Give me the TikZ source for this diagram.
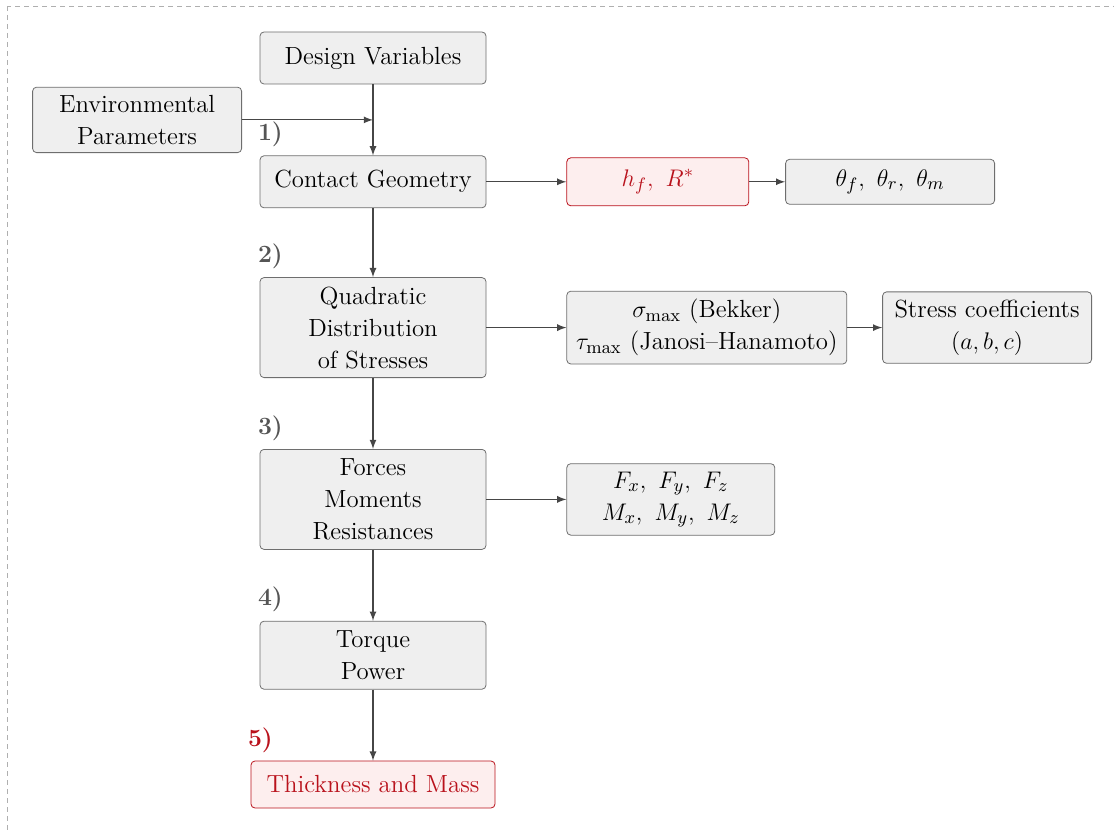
\documentclass[tikz,border=0pt]{standalone}
\usepackage{tikz}
\usepackage{xcolor}
\usetikzlibrary{shapes.geometric, arrows, positioning, calc}
\definecolor{boxgray}{RGB}{239, 239, 239}
\definecolor{edgegray}{RGB}{110, 110, 110}
\definecolor{linegray}{RGB}{70, 70, 70}
\definecolor{keyred}{RGB}{185, 18, 28}
\definecolor{keyredfill}{RGB}{253, 238, 238}
\definecolor{labelgray}{RGB}{85, 85, 85}
\definecolor{framegray}{RGB}{175, 175, 175}
\tikzstyle{block} = [rectangle, rounded corners=2pt, minimum width=113pt, minimum height=26pt, align=center, draw=edgegray, fill=boxgray, font={\fontsize{12.4}{16}\selectfont}, inner xsep=6pt, inner ysep=4pt]
\tikzstyle{result} = [block, draw=keyred, fill=keyredfill, text=keyred]
\tikzstyle{arrow} = [->, >=latex, draw=linegray, line width=0.6pt]
\tikzstyle{steplabel} = [font={\fontsize{12.4}{16}\selectfont\bfseries}, text=labelgray, anchor=base west, inner sep=0pt]

\begin{document}
\begin{tikzpicture}[node distance=35.5pt]
      \useasboundingbox (0,0) rectangle (557pt,-417pt);
      \draw[framegray, dash pattern=on 2.5pt off 2pt] (3.5pt,-3pt) rectangle (580pt,-440pt);

      \node[block] (design) at (186.5pt,-29pt) {Design Variables};
      \node[block, below=of design] (contact) {Contact Geometry};
      \node[block, below=34.5pt of contact, minimum height=50pt] (quad) {Quadratic\\Distribution\\of Stresses};
      \node[block, below=of quad, minimum height=50pt] (forces) {Forces\\Moments\\Resistances};
      \node[block, below=of forces, minimum height=34pt] (torque) {Torque\\Power};
      \node[result, below=of torque, minimum width=122pt, minimum height=23.5pt] (thick) {Thickness and Mass};

      \coordinate (join) at ($(design.south)!0.5!(contact.north)$);
      \node[block, left=65.5pt of join, minimum width=104.5pt] (env) {Environmental\\Parameters};

      \node[result, right=40pt of contact, minimum width=91pt, minimum height=24pt] (height) {$h_f,\ R^*$};
      \node[block, right=18pt of height, minimum width=104.5pt, minimum height=22.5pt] (angles) {$\theta_f,\ \theta_r,\ \theta_m$};
      \node[block, right=40pt of quad, minimum width=140pt, inner xsep=3.5pt] (peak) {$\sigma_{\max}$ (Bekker)\\$\tau_{\max}$ (Janosi--Hanamoto)};
      \node[block, right=17.5pt of peak, minimum width=104.5pt, inner xsep=4pt] (coeff) {Stress coefficients\\$(a, b, c)$};
      \node[block, right=40pt of forces, minimum width=104pt] (loads) {$F_x,\ F_y,\ F_z$\\$M_x,\ M_y,\ M_z$};

      \node[steplabel] at ([xshift=-1pt, yshift=7.5pt]contact.north west) {1)};
      \node[steplabel] at ([xshift=-1pt, yshift=7.5pt]quad.north west) {2)};
      \node[steplabel] at ([xshift=-1pt, yshift=7.5pt]forces.north west) {3)};
      \node[steplabel] at ([xshift=-1pt, yshift=7.5pt]torque.north west) {4)};
      \node[steplabel, text=keyred] at ([xshift=-1.5pt, yshift=7pt]thick.north west) {5)};

      \draw[arrow] (design) -- (contact);
      \draw[arrow] (env) -- (join);
      \draw[arrow] (contact) -- (height);
      \draw[arrow] (height) -- (angles);
      \draw[arrow] (contact) -- (quad);
      \draw[arrow] (quad) -- (peak);
      \draw[arrow] (peak) -- (coeff);
      \draw[arrow] (quad) -- (forces);
      \draw[arrow] (forces) -- (loads);
      \draw[arrow] (forces) -- (torque);
      \draw[arrow] (torque) -- (thick);
    \end{tikzpicture}
\end{document}
